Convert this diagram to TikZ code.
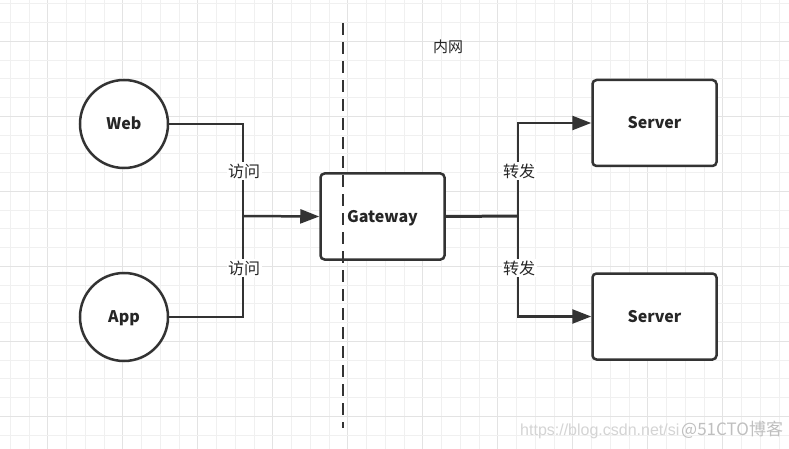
\documentclass[tikz,border=0pt]{standalone}
\usepackage{fontspec}
\setmainfont{Noto Sans CJK SC}
\newfontfamily\wmfont{Liberation Sans}
\usetikzlibrary{arrows.meta}
\begin{document}
\begin{tikzpicture}[x=1pt,y=-1pt,
  minorgrid/.style={draw=black!6, line width=0.8pt},
  majorgrid/.style={draw=black!11, line width=0.9pt},
  circnode/.style={circle, draw=black!80, line width=2.5pt, fill=white, minimum size=88pt, inner sep=0pt, font=\fontsize{16}{18}\selectfont\bfseries, text=black!85, text height=11.5pt, text depth=0pt},
  boxnode/.style={rectangle, rounded corners=4pt, draw=black!80, line width=2.5pt, fill=white, minimum width=124pt, minimum height=86pt, inner sep=0pt, font=\fontsize{16}{18}\selectfont\bfseries, text=black!85, text height=11.5pt, text depth=0pt},
  conn/.style={draw=black!80, line width=2.5pt},
  arr/.style={conn, -{Triangle[length=19pt,width=14pt]}},
  lbl/.style={fill=white, inner sep=1.5pt, font=\fontsize{16}{18}\selectfont, text=black!85},
  wm/.style={font=\wmfont\fontsize{16}{18}\selectfont, inner sep=0pt}
]
\useasboundingbox (0,0) rectangle (789,449);
\fill[white] (0,0) rectangle (789,449);
% grid
\foreach \i in {0,...,41} {
  \pgfmathsetmacro{\xx}{10.2+18.75*\i}
  \pgfmathtruncatemacro{\m}{mod(\i,4)}
  \ifnum\m=2 \draw[majorgrid] (\xx,0) -- (\xx,449); \else \draw[minorgrid] (\xx,0) -- (\xx,449); \fi
}
\foreach \i in {0,...,23} {
  \pgfmathsetmacro{\yy}{3.7+18.75*\i}
  \pgfmathtruncatemacro{\m}{mod(\i,4)}
  \ifnum\m=2 \draw[majorgrid] (0,\yy) -- (789,\yy); \else \draw[minorgrid] (0,\yy) -- (789,\yy); \fi
}
% nodes
\node[circnode] (web) at (124,124) {Web};
\node[circnode] (app) at (124,317) {App};
\node[boxnode] (gw) at (382.5,216.5) {Gateway};
\node[boxnode] (s1) at (654.5,123) {Server};
\node[boxnode] (s2) at (654.5,316.5) {Server};
\coordinate (j1) at (243,216);
\coordinate (j2) at (518,216);
% connectors
\draw[conn] (web.east) -| (j1);
\draw[conn] (app.east) -| (j1);
\draw[arr] (j1) -- (gw.west);
\draw[conn, line width=3pt] (gw.east) -- (j2);
\draw[arr] (j2) |- (s1.west);
\draw[arr] (j2) |- (s2.west);
% labels
\node[lbl] (l1) at (244,171) {访问};
\node[lbl] (l2) at (244,268) {访问};
\node[lbl] (l3) at (519,171) {转发};
\node[lbl] (l4) at (519,268) {转发};
\node[font=\fontsize{15}{17}\selectfont, text=black!85] (nw) at (448,47) {内网};
% dashed divider
\coordinate (d1) at (343,23);
\coordinate (d2) at (343,428);
\draw[draw=black!80, line width=2.6pt, dash pattern=on 12pt off 7pt] (d1) -- (d2);
% watermark
\node[wm, anchor=west, text=black!17] (wm1) at (520,431) {https://blog.csdn.net/si};
\node[wm, anchor=west, text=black!25, font=\fontsize{17}{19}\selectfont] (wm2) at (681,430) {@51CTO博客};
\end{tikzpicture}
\end{document}
